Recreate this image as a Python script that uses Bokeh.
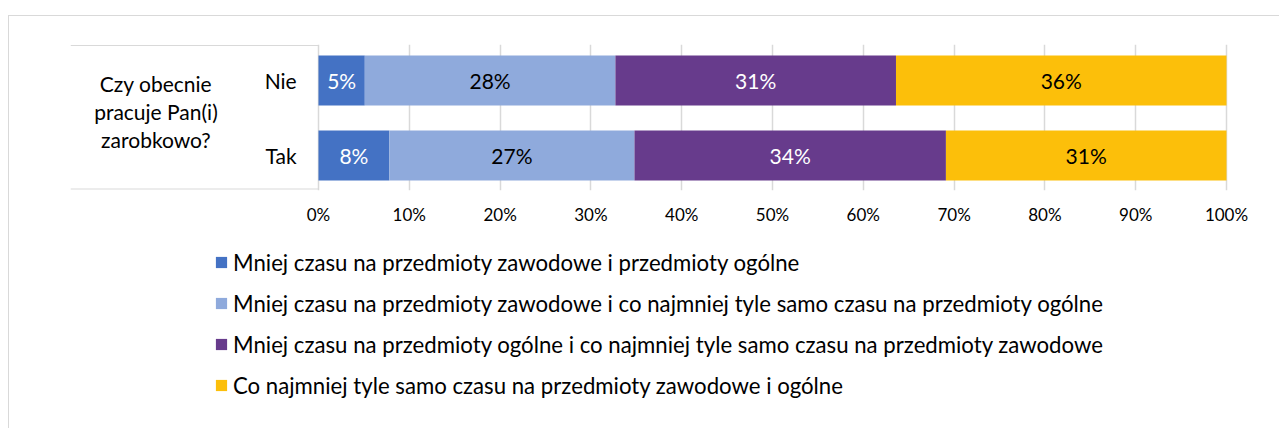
from bokeh.plotting import figure
from bokeh.layouts import column
from bokeh.models import (ColumnDataSource, Range1d, FixedTicker, Legend, LegendItem)
from bokeh.core.properties import value
from bokeh.embed import file_html
from bokeh.resources import INLINE

# ---- data ----
categories = ["Nie", "Tak"]
group_label = "Czy obecnie\npracuje Pan(i)\nzarobkowo?"
series_names = [
    "Mniej czasu na przedmioty zawodowe i przedmioty ogólne",
    "Mniej czasu na przedmioty zawodowe i co najmniej tyle samo czasu na przedmioty ogólne",
    "Mniej czasu na przedmioty ogólne i co najmniej tyle samo czasu na przedmioty zawodowe",
    "Co najmniej tyle samo czasu na przedmioty zawodowe i ogólne",
]
s1 = [5.1, 7.8]
s2 = [27.6, 27.0]
s3 = [30.9, 34.3]
s4 = [36.4, 30.9]
tick_values = [0, 10, 20, 30, 40, 50, 60, 70, 80, 90, 100]
tick_labels = ["0%", "10%", "20%", "30%", "40%", "50%", "60%", "70%", "80%", "90%", "100%"]

colors = ["#4472C4", "#8FAADC", "#673B8C", "#FCBF0A"]
label_colors = ["white", "black", "white", "black"]

FONT = "Lato"
GRID = "#D9D9D9"
W = 1270

n = len(categories)
ypos = [n - 0.5 - i for i in range(n)]  # first category on top

# ---------------- bar chart ----------------
x_start = -27.31
p = figure(width=W, height=224, output_backend="svg", toolbar_location=None,
           x_range=Range1d(x_start, 100.22), y_range=Range1d(0.0333, 1.98),
           min_border_left=61, min_border_right=51, min_border_top=28, min_border_bottom=50)
p.outline_line_color = None
p.yaxis.visible = False
p.ygrid.visible = False

ticker = FixedTicker(ticks=tick_values)
p.xaxis.ticker = ticker
p.xaxis.major_label_overrides = {v: l for v, l in zip(tick_values, tick_labels)}
p.xaxis.axis_line_color = None
p.xaxis.major_tick_line_color = None
p.xaxis.minor_tick_line_color = None
p.xaxis.major_tick_out = 0
p.xaxis.major_label_standoff = 13
p.xaxis.major_label_text_font = FONT
p.xaxis.major_label_text_font_size = "17px"
p.xaxis.major_label_text_color = "black"
p.xgrid.ticker = ticker
p.xgrid.grid_line_color = GRID
p.xgrid.grid_line_width = 1.5

series = [s1, s2, s3, s4]
left = [0.0] * n
for k, vals in enumerate(series):
    right = [l + v for l, v in zip(left, vals)]
    src = ColumnDataSource(dict(y=ypos, left=left, right=right,
                                xm=[(l + r) / 2 for l, r in zip(left, right)],
                                lab=[f"{round(v)}%" for v in vals]))
    p.hbar(y="y", left="left", right="right", height=0.6667, source=src,
           fill_color=colors[k], line_color=None)
    p.text(x="xm", y="y", text="lab", source=src, text_align="center", text_baseline="middle",
           text_font=value(FONT), text_font_size="21px", text_color=label_colors[k])
    left = right

# category labels
p.text(x=[-2.4] * n, y=ypos, text=categories, text_align="right", text_baseline="middle",
       text_font=value(FONT), text_font_size="21px", text_color="black")
p.text(x=[-17.9], y=[1.08], text=[group_label], text_align="center", text_baseline="middle",
       text_font=value(FONT), text_font_size="21px", text_color="black", text_line_height=1.12)

# category box lines
p.segment(x0=[x_start, x_start], x1=[0, 0], y0=[1.9667, 0.0533], y1=[1.9667, 0.0533],
          line_color=GRID, line_width=1)

# ---------------- legend ----------------
pl = figure(width=W, height=188, output_backend="svg", toolbar_location=None,
            x_range=Range1d(0, 1), y_range=Range1d(0, 1),
            x_axis_location=None, y_axis_location=None,
            min_border=0, min_border_left=0, min_border_right=0,
            min_border_top=0, min_border_bottom=0)
pl.outline_line_color = None
pl.grid.visible = False
# zero-size swatch renderers (only used by the legend)
leg_renderers = [pl.hbar(y=[-5], left=[0], right=[0], height=0, fill_color=c, line_color=None)
                 for c in colors]
legend = Legend(items=[LegendItem(label=nm, renderers=[r]) for nm, r in zip(series_names, leg_renderers)],
                location=(144, 28), orientation="vertical", padding=0, margin=0,
                border_line_color=None, background_fill_alpha=0,
                glyph_width=14, glyph_height=14, label_standoff=5, spacing=11,
                label_height=30, label_text_font=FONT, label_text_font_size="22.2px",
                label_text_color="black")
pl.add_layout(legend)

layout = column(p, pl, spacing=0)
layout.styles = {"border-top": "1px solid #D9D9D9", "border-left": "1px solid #D9D9D9",
                 "margin": "15px 0px 0px 8px"}

open("out.html", "w").write(file_html(layout, INLINE))
